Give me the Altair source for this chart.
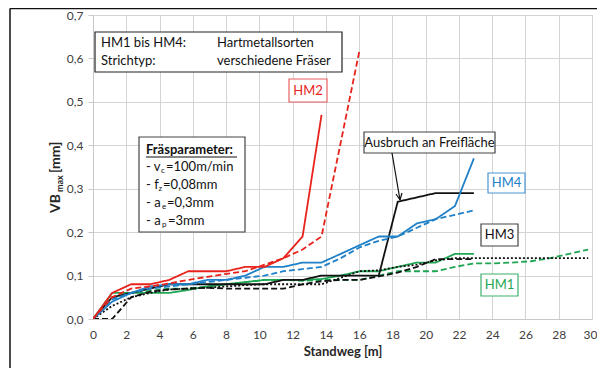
import altair as alt
import pandas as pd

# ---------------- data ----------------
X_STEPS = [0, 1.15, 2.29, 3.44, 4.58, 5.73, 6.87, 8.02, 9.16, 10.31, 11.45, 12.6,
           13.74, 14.89, 16.03, 17.18, 18.32, 19.47, 20.61, 21.76, 22.9, 24.05,
           25.19, 26.34, 27.48, 28.63, 29.77]

hm2_solid_x = X_STEPS[:12] + [13.74]
hm2_solid_y = [0, 0.06, 0.08, 0.08, 0.09, 0.11, 0.11, 0.11, 0.12, 0.12, 0.14, 0.19, 0.47]

hm2_dash_x = X_STEPS[:13] + [16.03]
hm2_dash_y = [0, 0.05, 0.07, 0.075, 0.082, 0.09, 0.097, 0.104, 0.11, 0.125, 0.14, 0.16, 0.19, 0.62]

hm4_solid_x = X_STEPS[:21]
hm4_solid_y = [0, 0.04, 0.06, 0.075, 0.08, 0.08, 0.09, 0.09, 0.10, 0.12, 0.12, 0.13, 0.13,
               0.15, 0.17, 0.19, 0.19, 0.22, 0.23, 0.26, 0.37]

hm4_dash_x = X_STEPS[:21]
hm4_dash_y = [0, 0.045, 0.06, 0.07, 0.075, 0.08, 0.085, 0.09, 0.095, 0.10, 0.11, 0.115, 0.12,
              0.14, 0.165, 0.18, 0.19, 0.21, 0.23, 0.24, 0.25]

hm3_solid_x = X_STEPS[:21]
hm3_solid_y = [0, 0.05, 0.06, 0.07, 0.08, 0.08, 0.08, 0.08, 0.08, 0.08, 0.09, 0.09, 0.10,
               0.10, 0.10, 0.10, 0.27, 0.28, 0.29, 0.29, 0.29]

hm3_dash_x = X_STEPS[:21]
hm3_dash_y = [0, 0, 0.05, 0.063, 0.068, 0.07, 0.072, 0.07, 0.07, 0.07, 0.07, 0.08, 0.087,
              0.09, 0.09, 0.098, 0.107, 0.12, 0.138, 0.138, 0.138]

hm3_dot_x = X_STEPS[:21] + [29.77]
hm3_dot_y = [0, 0.03, 0.05, 0.06, 0.068, 0.07, 0.072, 0.075, 0.078, 0.08, 0.08, 0.08, 0.08,
             0.095, 0.11, 0.112, 0.12, 0.125, 0.135, 0.14, 0.14, 0.14]

hm1_solid_x = X_STEPS[:21]
hm1_solid_y = [0, 0.06, 0.06, 0.06, 0.06, 0.067, 0.075, 0.08, 0.085, 0.09, 0.09, 0.09, 0.092,
               0.10, 0.11, 0.11, 0.12, 0.13, 0.13, 0.15, 0.15]

hm1_dash_x = X_STEPS
hm1_dash_y = [0, 0.05, 0.06, 0.065, 0.07, 0.07, 0.075, 0.08, 0.085, 0.09, 0.09, 0.088, 0.09,
              0.09, 0.09, 0.10, 0.11, 0.11, 0.11, 0.12, 0.128, 0.128, 0.13, 0.133, 0.14,
              0.15, 0.16]

RED, BLUE, BLACK, GREEN = "#e8231c", "#2080c8", "#111111", "#1ea653"
SOLID, DASH, DOT = [1, 0], [6, 3], [2, 2]

series = [
    ("HM1 solid", hm1_solid_x, hm1_solid_y, GREEN, SOLID),
    ("HM1 dashed", hm1_dash_x, hm1_dash_y, GREEN, DASH),
    ("HM3 dotted", hm3_dot_x, hm3_dot_y, BLACK, DOT),
    ("HM3 dashed", hm3_dash_x, hm3_dash_y, BLACK, DASH),
    ("HM3 solid", hm3_solid_x, hm3_solid_y, BLACK, SOLID),
    ("HM4 dashed", hm4_dash_x, hm4_dash_y, BLUE, DASH),
    ("HM4 solid", hm4_solid_x, hm4_solid_y, BLUE, SOLID),
    ("HM2 dashed", hm2_dash_x, hm2_dash_y, RED, DASH),
    ("HM2 solid", hm2_solid_x, hm2_solid_y, RED, SOLID),
]

rows = []
for name, xs, ys, _, _ in series:
    for i, (xv, yv) in enumerate(zip(xs, ys)):
        rows.append({"series": name, "x": xv, "y": yv, "i": i})
df = pd.DataFrame(rows)

names = [s[0] for s in series]
colors = [s[3] for s in series]
dashes = [s[4] for s in series]

FONT = "Lato"

lines = alt.Chart(df).mark_line(strokeWidth=1.8, clip=True).encode(
    x=alt.X("x:Q", scale=alt.Scale(domain=[0, 30], nice=False),
            axis=alt.Axis(values=list(range(0, 31, 2)), title="Standweg [m]",
                          ticks=False, labelPadding=10, titlePadding=5,
                          labelAlign=alt.ExprRef("datum.value == 30 ? 'right' : 'center'"),
                          labelOffset=alt.ExprRef("datum.value == 30 ? 5 : 0"),
                          labelFont=FONT, labelFontSize=12, labelColor="#404040",
                          titleFont=FONT, titleFontSize=13, titleFontWeight="bold",
                          titleColor="#262626", gridColor="#d4d4d4",
                          domainColor="#c8c8c8", labelFlush=False)),
    y=alt.Y("y:Q", scale=alt.Scale(domain=[0, 0.7], nice=False),
            axis=alt.Axis(values=[0, 0.1, 0.2, 0.3, 0.4, 0.5, 0.6, 0.7], title=None,
                          labelExpr="replace(format(datum.value, '.1f'), '.', ',')",
                          tickSize=5, tickColor="#c8c8c8", labelPadding=5,
                          labelFont=FONT, labelFontSize=12, labelColor="#404040",
                          gridColor="#d4d4d4", domainColor="#c8c8c8")),
    color=alt.Color("series:N", scale=alt.Scale(domain=names, range=colors), legend=None),
    strokeDash=alt.StrokeDash("series:N", scale=alt.Scale(domain=names, range=dashes), legend=None),
    order=alt.Order("i:Q"),
)

# ---------------- annotations (pixel positions in plot frame) ----------------
box_df = pd.DataFrame([
    {"x1": 2, "y1": 17, "x2": 249, "y2": 57, "sc": "#222222"},
    {"x1": 196, "y1": 64, "x2": 234, "y2": 87, "sc": "#e86060"},
    {"x1": 46, "y1": 122, "x2": 152, "y2": 217, "sc": "#444444"},
    {"x1": 271, "y1": 117, "x2": 402, "y2": 138, "sc": "#444444"},
    {"x1": 395, "y1": 158, "x2": 432, "y2": 178, "sc": "#4a95d0"},
    {"x1": 388, "y1": 209, "x2": 425, "y2": 231, "sc": "#444444"},
    {"x1": 388, "y1": 259, "x2": 425, "y2": 281, "sc": "#3cb06a"},
])
boxes = alt.Chart(box_df).mark_rect(fill="white", strokeWidth=1.2).encode(
    x=alt.X("x1:Q", scale=None, axis=None), x2="x2:Q",
    y=alt.Y("y1:Q", scale=None, axis=None), y2="y2:Q",
    stroke=alt.Stroke("sc:N", scale=None),
)

left_txt = pd.DataFrame([
    {"px": 8, "py": 28, "t": "HM1 bis HM4:"},
    {"px": 8, "py": 46, "t": "Strichtyp:"},
    {"px": 124, "py": 28, "t": "Hartmetallsorten"},
    {"px": 124, "py": 46, "t": "verschiedene Fräser"},
    {"px": 53, "py": 152, "t": "- v"},
    {"px": 73, "py": 152, "t": "=100m/min"},
    {"px": 53, "py": 170, "t": "- f"},
    {"px": 70, "py": 170, "t": "=0,08mm"},
    {"px": 53, "py": 188, "t": "- a"},
    {"px": 74, "py": 188, "t": "=0,3mm"},
    {"px": 53, "py": 206, "t": "- a"},
    {"px": 75, "py": 206, "t": "=3mm"},
])
texts = alt.Chart(left_txt).mark_text(align="left", baseline="middle", font=FONT,
                                      fontSize=13, color="#111111").encode(
    x=alt.X("px:Q", scale=None, axis=None), y=alt.Y("py:Q", scale=None, axis=None), text="t:N")

sub_txt = pd.DataFrame([
    {"px": 68, "py": 156, "t": "c"},
    {"px": 65.5, "py": 174, "t": "z"},
    {"px": 69, "py": 192, "t": "e"},
    {"px": 69, "py": 210, "t": "p"},
])
subs = alt.Chart(sub_txt).mark_text(align="left", baseline="middle", font=FONT,
                                    fontSize=8, color="#111111").encode(
    x=alt.X("px:Q", scale=None, axis=None), y=alt.Y("py:Q", scale=None, axis=None), text="t:N")

bold_df = pd.DataFrame([{"px": 53, "py": 135, "t": "Fräsparameter:"}])
bold = alt.Chart(bold_df).mark_text(align="left", baseline="middle", font=FONT,
                                    fontSize=13, fontWeight="bold", color="#111111").encode(
    x=alt.X("px:Q", scale=None, axis=None), y=alt.Y("py:Q", scale=None, axis=None), text="t:N")

center_df = pd.DataFrame([
    {"px": 215, "py": 75.5, "t": "HM2", "c": "#e8231c"},
    {"px": 336.5, "py": 127.5, "t": "Ausbruch an Freifläche", "c": "#111111"},
    {"px": 413.5, "py": 168, "t": "HM4", "c": "#2080c8"},
    {"px": 406.5, "py": 220, "t": "HM3", "c": "#111111"},
    {"px": 406.5, "py": 270, "t": "HM1", "c": "#1ea653"},
])
centers = alt.Chart(center_df).mark_text(align="center", baseline="middle", font=FONT,
                                         fontSize=13).encode(
    x=alt.X("px:Q", scale=None, axis=None), y=alt.Y("py:Q", scale=None, axis=None),
    text="t:N", color=alt.Color("c:N", scale=None))

rule_df = pd.DataFrame([
    {"x1": 53, "y1": 142, "x2": 144, "y2": 142, "c": "#111111", "w": 1.2},
    {"x1": 299, "y1": 138, "x2": 307, "y2": 185, "c": "#111111", "w": 1.2},
    {"x1": 307, "y1": 185, "x2": 309, "y2": 178, "c": "#111111", "w": 1.2},
    {"x1": 307, "y1": 185, "x2": 303, "y2": 179, "c": "#111111", "w": 1.2},
    {"x1": -83, "y1": -6.5, "x2": 510, "y2": -6.5, "c": "#111111", "w": 1.5},
    {"x1": -83, "y1": -6.5, "x2": -83, "y2": 360, "c": "#111111", "w": 1.5},
])
rules = alt.Chart(rule_df).mark_rule().encode(
    x=alt.X("x1:Q", scale=None, axis=None), x2="x2:Q",
    y=alt.Y("y1:Q", scale=None, axis=None), y2="y2:Q",
    color=alt.Color("c:N", scale=None), strokeWidth=alt.StrokeWidth("w:Q", scale=None))

ytitle_df = pd.DataFrame([
    {"px": -37, "py": 198, "t": "VB", "fs": 14},
    {"px": -33, "py": 177, "t": "max", "fs": 9},
    {"px": -37, "py": 158, "t": "[mm]", "fs": 14},
])
ytitle = alt.Chart(ytitle_df).mark_text(align="left", baseline="middle", font=FONT,
                                        fontWeight="bold", angle=270, color="#262626").encode(
    x=alt.X("px:Q", scale=None, axis=None), y=alt.Y("py:Q", scale=None, axis=None),
    text="t:N", size=alt.Size("fs:Q", scale=None))

chart = alt.layer(lines, boxes, texts, subs, bold, centers, rules, ytitle).properties(
    width=499, height=304,
    autosize=alt.AutoSizeParams(type="none"),
    padding={"left": 85, "top": 7, "right": 5, "bottom": 49},
    background="white",
).configure_view(stroke="#c8c8c8")

chart.save("out.html", embed_options={"renderer": "svg", "actions": False})
